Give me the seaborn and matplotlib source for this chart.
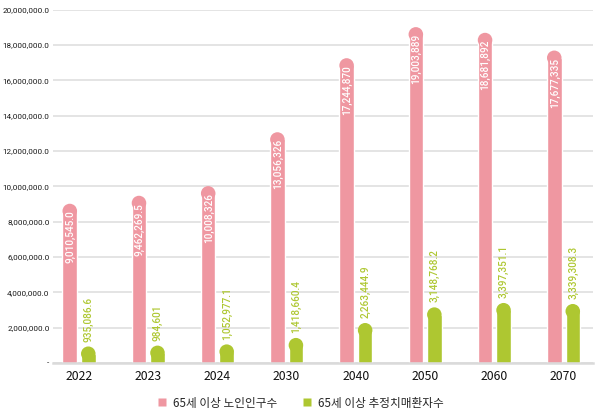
import matplotlib
matplotlib.use("Agg")
import matplotlib.pyplot as plt
import pandas as pd
import seaborn as sns
from matplotlib.lines import Line2D
from matplotlib.patches import Ellipse
from matplotlib.ticker import FuncFormatter

years = ["2022", "2023", "2024", "2030", "2040", "2050", "2060", "2070"]
elderly = [9010545.0, 9462269.5, 10008326, 13056326, 17244870, 19003889, 18681892, 17677335]
dementia = [935086.6, 984601, 1052977.1, 1418660.4, 2263444.9, 3148768.2, 3397351.1, 3339308.3]
elderly_labels = ["9,010,545.0", "9,462,269.5", "10,008,326", "13,056,326",
                  "17,244,870", "19,003,889", "18,681,892", "17,677,335"]
dementia_labels = ["935,086.6", "984,601", "1,052,977.1", "1,418,660.4",
                   "2,263,444.9", "3,148,768.2", "3,397,351.1", "3,339,308.3"]
series = ["65세 이상 노인인구수", "65세 이상 추정치매환자수"]

PINK = "#EF97A1"
GREEN = "#AEC731"

sns.set_theme(style="whitegrid")
plt.rcParams["font.family"] = ["Noto Sans CJK KR", "DejaVu Sans"]

df = pd.DataFrame({
    "year": years * 2,
    "value": elderly + dementia,
    "series": [series[0]] * len(years) + [series[1]] * len(years),
})

fig = plt.figure(figsize=(6.0, 4.12), dpi=100)
ax = fig.add_axes([53 / 600, 49 / 412, 540 / 600, 353.5 / 412])

sns.barplot(data=df, x="year", y="value", hue="series", hue_order=series,
            palette=[PINK, GREEN], width=0.535, gap=0.215, legend=False,
            saturation=1, ax=ax)

ax.set_xlim(-0.376, 7.426)
ax.set_ylim(0, 20_000_000)
ax.set_yticks(range(0, 20_000_001, 2_000_000))
ax.yaxis.set_major_formatter(FuncFormatter(lambda v, p: "-" if v == 0 else f"{v:,.1f}"))
ax.set_xlabel("")
ax.set_ylabel("")

ax.grid(axis="y", color="#E2E2E2", linewidth=1.3)
ax.grid(axis="x", visible=False)
for side in ["top", "right", "left"]:
    ax.spines[side].set_visible(False)
ax.spines["bottom"].set_color("#DADADA")
ax.spines["bottom"].set_linewidth(1.8)
ax.tick_params(axis="y", length=0, pad=2.5, labelsize=5.9, colors="#1a1a1a")
ax.tick_params(axis="x", length=0, pad=5, labelsize=8.8, colors="#111111")
for t in ax.get_yticklabels():
    t.set_family(["Liberation Sans Narrow", "Roboto", "DejaVu Sans"])

# round the bar tops
inv = ax.transData.inverted()
def y_per_px():
    a = inv.transform((0, 0))
    b = inv.transform((0, 1))
    return abs(b[1] - a[1])
def x_per_px():
    a = inv.transform((0, 0))
    b = inv.transform((1, 0))
    return abs(b[0] - a[0])

for cont, color in zip(ax.containers, [PINK, GREEN]):
    for rect in cont:
        w = rect.get_width()
        h = rect.get_height()
        rx_px = (w / x_per_px()) / 2
        ry = rx_px * y_per_px()
        rect.set_height(h - ry)
        ax.add_patch(Ellipse((rect.get_x() + w / 2, h - ry), w, 2 * ry,
                             facecolor=color, edgecolor="none"))

# value labels
for rect, val, lab in zip(ax.containers[0], elderly, elderly_labels):
    cx = rect.get_x() + rect.get_width() / 2
    ax.annotate(lab, (cx, val), xytext=(0.3, -5), textcoords="offset points",
                rotation=90, ha="center", va="top", color="white",
                fontsize=7.2, fontweight="medium", family=["Roboto", "DejaVu Sans"])
for rect, val, lab in zip(ax.containers[1], dementia, dementia_labels):
    cx = rect.get_x() + rect.get_width() / 2
    ax.annotate(lab, (cx, val), xytext=(0.3, 3.5), textcoords="offset points",
                rotation=90, ha="center", va="bottom", color=GREEN,
                fontsize=7.2, fontweight="medium", family=["Roboto", "DejaVu Sans"])

handles = [Line2D([], [], marker="s", linestyle="none", markersize=5.5,
                  markerfacecolor=c, markeredgecolor="none") for c in [PINK, GREEN]]
fig.legend(handles, series, loc="center", bbox_to_anchor=(0.5, 9 / 412), ncol=2,
           frameon=False, fontsize=8.4, handletextpad=0.5, columnspacing=2.0,
           handlelength=1.0)

fig.savefig("out.png", dpi=100)
